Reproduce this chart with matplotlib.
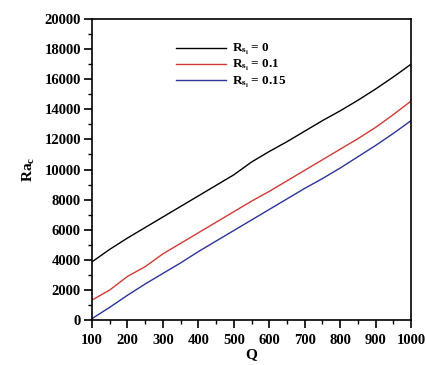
import matplotlib.pyplot as plt
from matplotlib.ticker import MultipleLocator

plt.rcParams["font.family"] = "Liberation Serif"
plt.rcParams["font.weight"] = "bold"
plt.rcParams["mathtext.fontset"] = "custom"
plt.rcParams["mathtext.rm"] = "Liberation Serif:bold"
plt.rcParams["mathtext.it"] = "Liberation Serif:bold"
plt.rcParams["mathtext.bf"] = "Liberation Serif:bold"

q = [100, 150, 200, 250, 300, 350, 400, 450, 500, 550,
     600, 650, 700, 750, 800, 850, 900, 950, 1000]
ra_rs0 = [3870, 4700, 5450, 6150, 6850, 7550, 8250, 8950, 9650, 10500,
          11200, 11850, 12550, 13250, 13900, 14600, 15350, 16150, 17000]
ra_rs01 = [1330, 2000, 2900, 3550, 4400, 5100, 5800, 6500, 7200, 7900,
           8550, 9250, 9950, 10650, 11350, 12050, 12800, 13650, 14550]
ra_rs015 = [100, 850, 1650, 2400, 3100, 3800, 4550, 5250, 5950, 6650,
            7350, 8050, 8750, 9400, 10100, 10850, 11600, 12400, 13250]

labels = [r"R$_{s_i}$ = 0", r"R$_{s_i}$ = 0.1", r"R$_{s_i}$ = 0.15"]
colors = ["black", "#d03a34", "#2c3399"]

fig = plt.figure(figsize=(4.26, 3.65), dpi=100)
ax = fig.add_axes([0.216, 0.123, 0.749, 0.825])

for series, label, color in zip([ra_rs0, ra_rs01, ra_rs015], labels, colors):
    ax.plot(q, series, color=color, lw=1.0, label=label)

ax.set_xlim(100, 1000)
ax.set_ylim(0, 20000)
ax.xaxis.set_major_locator(MultipleLocator(100))
ax.xaxis.set_minor_locator(MultipleLocator(50))
ax.yaxis.set_major_locator(MultipleLocator(2000))
ax.yaxis.set_minor_locator(MultipleLocator(1000))
ax.tick_params(which="major", length=6, width=1.2, labelsize=10.5, pad=2)
ax.tick_params(axis="x", which="major", pad=4)
ax.tick_params(which="minor", length=3, width=1.0)
for spine in ax.spines.values():
    spine.set_linewidth(1.2)

ax.set_xlabel("Q", fontsize=11, fontweight="bold", labelpad=1)
ax.set_ylabel(r"Ra$_c$", fontsize=11, fontweight="bold", labelpad=5)

ax.legend(loc="upper left", bbox_to_anchor=(0.225, 0.962), frameon=False,
          fontsize=9.5, handlelength=3.8, handletextpad=0.5, labelspacing=0.08)

fig.savefig("out.png", dpi=100)
